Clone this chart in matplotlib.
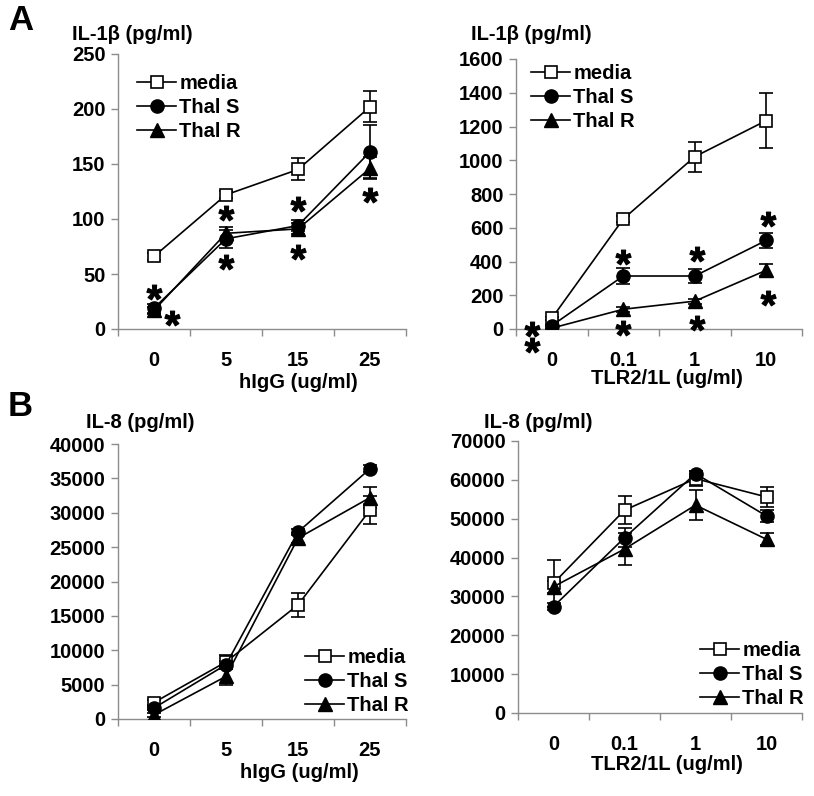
import numpy as np
import matplotlib
matplotlib.use("Agg")
import matplotlib.pyplot as plt
from matplotlib.textpath import TextPath
from matplotlib.font_manager import FontProperties
from matplotlib.path import Path
from matplotlib.ticker import MultipleLocator, FixedLocator

plt.rcParams['font.family'] = ['Liberation Sans', 'DejaVu Sans']
plt.rcParams['font.weight'] = 'bold'

# ---------------- data ----------------
series_names = ['media', 'Thal S', 'Thal R']
igg_labels = ['0', '5', '15', '25']
tlr_labels = ['0', '0.1', '1', '10']

# Panel A left: IL-1b vs hIgG
a1_media = [66, 122, 145, 202]
a1_media_err = [3, 3, 10, 14]
a1_thals = [19, 82, 94, 161]
a1_thals_err = [4, 8, 5, 24]
a1_thalr = [17, 87, 91, 146]
a1_thalr_err = [3, 6, 5, 10]
a1_star_x = [0, 0.25, 1, 1, 2, 2, 3]
a1_star_y = [34, 10, 105, 61, 114, 70, 122]

# Panel A right: IL-1b vs TLR2/1L
a2_media = [63, 652, 1021, 1235]
a2_media_err = [10, 15, 90, 165]
a2_thals = [20, 314, 314, 525]
a2_thals_err = [5, 50, 40, 45]
a2_thalr = [5, 117, 165, 348]
a2_thalr_err = [3, 15, 15, 35]
a2_star_x = [-0.27, -0.27, 1, 1, 2.03, 2.03, 3.03, 3.03]
a2_star_y = [0, -95, 428, 4, 444, 37, 650, 185]

# Panel B left: IL-8 vs hIgG
b1_media = [2400, 8300, 16600, 30400]
b1_media_err = [300, 1000, 1700, 2000]
b1_thals = [1600, 7900, 27200, 36400]
b1_thals_err = [300, 600, 500, 500]
b1_thalr = [600, 6200, 26300, 32200]
b1_thalr_err = [300, 1200, 700, 1500]

# Panel B right: IL-8 vs TLR2/1L
b2_media = [33400, 52200, 60300, 55600]
b2_media_err = [6000, 3600, 2000, 2600]
b2_thals = [27400, 45100, 61600, 50700]
b2_thals_err = [1000, 2500, 800, 1500]
b2_thalr = [32500, 42200, 53500, 44700]
b2_thalr_err = [1500, 4000, 3800, 1500]

# ---------------- figure ----------------
W, H = 814, 796
fig = plt.figure(figsize=(W / 100, H / 100), dpi=100)

def px_axes(l, r, t, b):
    return fig.add_axes([l / W, 1 - b / H, (r - l) / W, (b - t) / H])

FS = 14.5
GRAY = '#8c8c8c'

# asterisk marker from the font glyph (centered)
tp = TextPath((0, 0), '*', size=1, prop=FontProperties(family='Liberation Sans', weight='bold'))
verts = tp.vertices.copy()
codes = tp.codes.copy()
ext = tp.get_extents()
verts[:, 0] -= (ext.x0 + ext.x1) / 2
verts[:, 1] -= (ext.y0 + ext.y1) / 2
verts[codes == Path.CLOSEPOLY] = 0.0
star_path = Path(verts, codes)

def style_axes(ax, ymax, ystep, labels, xlabel, xlabel_x, xlabel_y):
    ax.set_xlim(-0.5, 3.5)
    ax.set_ylim(0, ymax)
    for s in ['top', 'right']:
        ax.spines[s].set_visible(False)
    for s in ['left', 'bottom']:
        ax.spines[s].set_color(GRAY)
        ax.spines[s].set_linewidth(1.0)
    ax.yaxis.set_major_locator(MultipleLocator(ystep))
    ax.tick_params(axis='y', direction='out', length=5, color=GRAY, width=1.0,
                   labelsize=FS, pad=4)
    ax.set_xticks(range(len(labels)))
    ax.set_xticklabels(labels)
    ax.xaxis.set_minor_locator(FixedLocator([-0.5, 0.5, 1.5, 2.5, 3.5]))
    ax.tick_params(axis='x', which='major', length=0, labelsize=FS, pad=16)
    ax.tick_params(axis='x', which='minor', direction='out', length=5, color=GRAY, width=1.0)
    for lab in ax.get_xticklabels() + ax.get_yticklabels():
        lab.set_fontweight('bold')
    ax.set_xlabel(xlabel, fontsize=FS, fontweight='bold')
    ax.xaxis.set_label_coords(xlabel_x, xlabel_y)
    ax.xaxis.label.set_va('center')

def plot_series(ax, vals, errs):
    x = np.arange(4)
    specs = [dict(marker='s', ms=8, mfc='white', mec='black', mew=1.2),
             dict(marker='o', ms=9.5, mfc='black', mec='black'),
             dict(marker='^', ms=9.5, mfc='black', mec='black')]
    handles = []
    for v, e, sp, name in zip(vals, errs, specs, series_names):
        ax.errorbar(x, v, yerr=e, color='black', lw=1.2, capsize=5, capthick=1.2,
                    elinewidth=1.2, zorder=3, **sp)
        h, = ax.plot([], [], color='black', lw=1.2, label=name, **sp)
        handles.append(h)
    return handles

def add_legend(ax, handles, x_px, y_px):
    leg = ax.legend(handles=handles, loc='upper left',
                    bbox_to_anchor=(x_px / W, 1 - y_px / H),
                    bbox_transform=fig.transFigure, frameon=False,
                    prop=FontProperties(family='Liberation Sans', weight='bold', size=FS),
                    handlelength=1.95, handletextpad=0.15, labelspacing=0.25,
                    borderpad=0, borderaxespad=0)
    return leg

def add_stars(ax, xs, ys):
    ax.plot(xs, ys, linestyle='none', marker=star_path, ms=11, color='black',
            mec='black', mew=0.8, clip_on=False, zorder=5)

# --- A left
ax1 = px_axes(118, 406, 54, 329)
h = plot_series(ax1, [a1_media, a1_thals, a1_thalr], [a1_media_err, a1_thals_err, a1_thalr_err])
style_axes(ax1, 250, 50, igg_labels, 'hIgG (ug/ml)', (298 - 118) / 288, -(383 - 329) / 275)
add_legend(ax1, h, 137, 74)
add_stars(ax1, a1_star_x, a1_star_y)

# --- A right
ax2 = px_axes(516, 802, 59, 329)
h = plot_series(ax2, [a2_media, a2_thals, a2_thalr], [a2_media_err, a2_thals_err, a2_thalr_err])
style_axes(ax2, 1600, 200, tlr_labels, 'TLR2/1L (ug/ml)', (667 - 516) / 286, -(379 - 329) / 270)
add_legend(ax2, h, 531, 64)
add_stars(ax2, a2_star_x, a2_star_y)

# --- B left
ax3 = px_axes(118, 406, 444, 719)
h = plot_series(ax3, [b1_media, b1_thals, b1_thalr], [b1_media_err, b1_thals_err, b1_thalr_err])
style_axes(ax3, 40000, 5000, igg_labels, 'hIgG (ug/ml)', (299 - 118) / 288, -(773 - 719) / 275)
add_legend(ax3, h, 305, 648)

# --- B right
ax4 = px_axes(518, 802, 441, 713)
h = plot_series(ax4, [b2_media, b2_thals, b2_thalr], [b2_media_err, b2_thals_err, b2_thalr_err])
style_axes(ax4, 70000, 10000, tlr_labels, 'TLR2/1L (ug/ml)', (667 - 518) / 284, -(765 - 713) / 272)
add_legend(ax4, h, 700, 641)

# y-axis titles
for txt, xr, yc in [('IL-1\u03b2 (pg/ml)', 193, 35), ('IL-1\u03b2 (pg/ml)', 592, 35),
                    ('IL-8 (pg/ml)', 195, 423), ('IL-8 (pg/ml)', 592, 422)]:
    fig.text(xr / W, 1 - yc / H, txt, ha='right', va='center', fontsize=FS, fontweight='bold')

# panel letters
fig.text(8 / W, 1 - 21 / H, 'A', ha='left', va='center', fontsize=25, fontweight='bold')
fig.text(8 / W, 1 - 407 / H, 'B', ha='left', va='center', fontsize=25, fontweight='bold')

fig.savefig('out.png', dpi=100)
